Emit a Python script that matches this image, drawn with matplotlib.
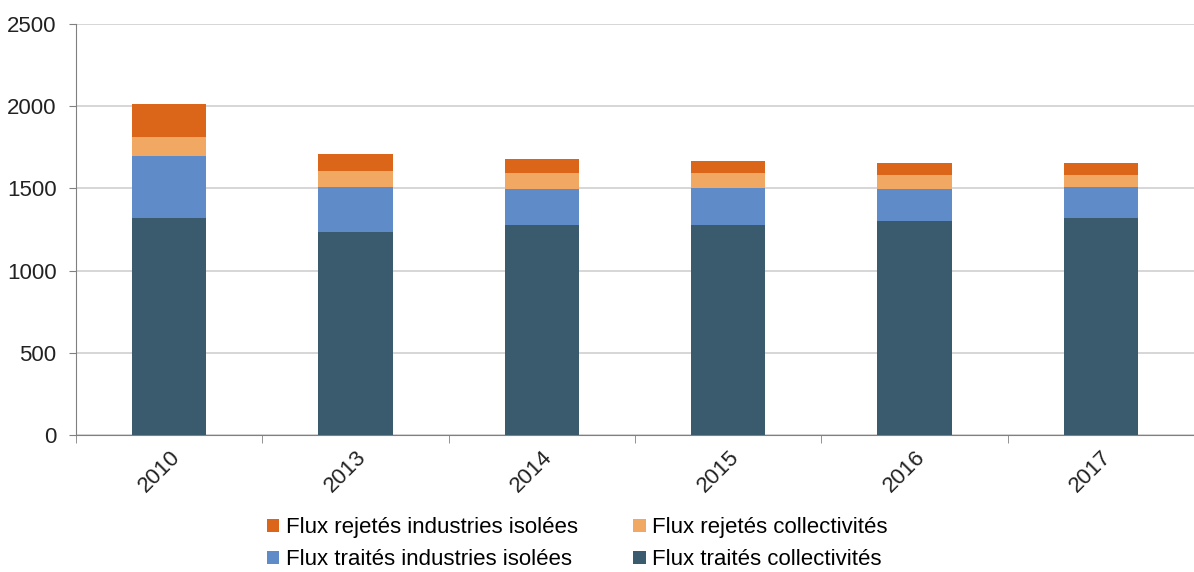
import matplotlib.pyplot as plt
import numpy as np

plt.rcParams['font.family'] = ['Liberation Sans', 'DejaVu Sans']

# Data
years = ['2010', '2013', '2014', '2015', '2016', '2017']
traites_collectivites = [1318, 1237, 1277, 1276, 1304, 1320]
traites_industries = [379, 270, 217, 224, 190, 187]
rejetes_collectivites = [114, 101, 98, 92, 89, 76]
rejetes_industries = [202, 101, 87, 77, 70, 70]

fig = plt.figure(figsize=(11.94, 5.72), dpi=100)
ax = fig.add_axes([76 / 1194, 1 - 435 / 572, 1118 / 1194, 411 / 572])

x = np.arange(len(years))
w = 0.4
b1 = np.array(traites_collectivites)
b2 = b1 + np.array(traites_industries)
b3 = b2 + np.array(rejetes_collectivites)

h4 = ax.bar(x, traites_collectivites, w, color='#3a5b6e', zorder=3)
h3 = ax.bar(x, traites_industries, w, bottom=b1, color='#5f8cc8', zorder=3)
h2 = ax.bar(x, rejetes_collectivites, w, bottom=b2, color='#f0a862', zorder=3)
h1 = ax.bar(x, rejetes_industries, w, bottom=b3, color='#db6519', zorder=3)

ax.set_xlim(-0.5, len(years) - 0.5)
ax.set_ylim(0, 2500)
ax.set_yticks(range(0, 2501, 500))
ax.yaxis.grid(True, color='#d0d0d0', linewidth=1.2, zorder=0)

for s in ['top', 'right']:
    ax.spines[s].set_visible(False)
ax.spines['left'].set_color('#808080')
ax.spines['bottom'].set_color('#808080')

ax.set_xticks(x)
ax.set_xticklabels(years, rotation=45, ha='right', rotation_mode='anchor')
ax.set_xticks(np.arange(-0.5, len(years), 1), minor=True)
ax.tick_params(axis='x', which='major', length=0, labelsize=16, pad=8, colors='#222222')
ax.tick_params(axis='x', which='minor', length=6, color='#808080')
ax.tick_params(axis='y', length=5, color='#808080', labelsize=16, labelcolor='#222222', pad=9)

leg = fig.legend([h1, h3, h2, h4],
                 ['Flux rejetés industries isolées', 'Flux traités industries isolées',
                  'Flux rejetés collectivités', 'Flux traités collectivités'],
                 ncol=2, loc='lower left', bbox_to_anchor=(247 / 1194, -0.032),
                 frameon=False, fontsize=16, handlelength=0.55, handleheight=0.55,
                 handletextpad=0.3, columnspacing=2.5, labelspacing=0.5)

fig.savefig('out.png', dpi=100)
